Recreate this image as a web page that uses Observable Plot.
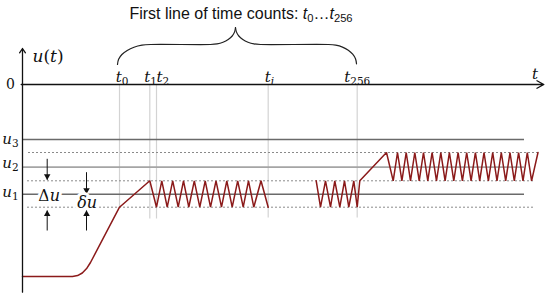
<!DOCTYPE html>
<html><head><meta charset="utf-8">
<script src="https://cdn.jsdelivr.net/npm/d3@7"></script>
<script src="https://cdn.jsdelivr.net/npm/@observablehq/plot@0.6"></script>
<style>body{margin:0;background:#fff}</style>
</head><body><div id="chart"></div>
<script>
// ---- diagram data (t: time, 0 at the u-axis; u: level, 0 at the t-axis) ----
const title = "First line of time counts: *t*_{0}…*t*_{256}";

const timeTicks = ["*t*_{0}", "*t*_{1}", "*t*_{2}", "*t*_{i}", "*t*_{256}"];
const timeTickT = [97, 127.3, 134, 245.7, 334.7];
const timeTickLabelT = [99.5, 128, 140.3, 247, 334.7];
const timeTickGuideEndU = [-123, -134, -134, -133, -133];

const levelNames = ["*u*_{3}", "*u*_{2}", "*u*_{1}"];
const levelValues = [-55, -82.7, -109.7];
const levelLabelU = [-54.5, -78.5, -108];
const levelEndT = 502;

const bandValues = [-68, -96.3, -122.7];
const bandStartT = [6, 5, 5];
const bandEndT = [516, 513, 512];

// signal u(t): ramp + first oscillation
const run1T = [0, 50, 55.1, 59.8, 64.1, 68, 97, 127.3,
  134, 139.3, 144.7, 150.2, 155.7, 161, 166.3, 171.8, 177.3, 182.7, 188,
  193.5, 199, 204.3, 209.7, 215.2, 220.7, 226, 231.3, 238.5, 245.7];
const run1U = [-192, -192, -191.1, -188.5, -184.1, -178, -122.7, -96.3,
  -122.7, -96.3, -122.7, -96.3, -122.7, -96.3, -122.7, -96.3, -122.7, -96.3, -122.7,
  -96.3, -122.7, -96.3, -122.7, -96.3, -122.7, -96.3, -122.7, -96.3, -122.7];
// signal u(t): end of first line, jump to the next level, second oscillation
const run2T = [293.7, 298, 303, 308, 312.3, 317.3, 322, 326.3, 331.3, 334.7, 337.3, 364,
  370.7, 375, 379.4, 383.7, 388, 392.3, 396.7, 401, 405.3, 409.6, 414, 418.3,
  422.6, 426.9, 431.3, 435.6, 439.9, 444.2, 448.6, 452.9, 457.2, 461.5, 465.9, 470.2,
  474.5, 478.8, 483.2, 487.5, 491.8, 496.1, 500.5, 504.8, 509.1, 515.5];
const run2U = [-96.3, -122.7, -96.3, -122.7, -96.3, -122.7, -96.3, -122.7, -96.3, -122.7, -96.3, -68,
  -96.3, -68, -96.3, -68, -96.3, -68, -96.3, -68, -96.3, -68, -96.3, -68,
  -96.3, -68, -96.3, -68, -96.3, -68, -96.3, -68, -96.3, -68, -96.3, -68,
  -96.3, -68, -96.3, -68, -96.3, -68, -96.3, -68, -96.3, -68];

// curly brace over t0 ... t256
const braceLeftT = [95, 96.1, 99.4, 104.7, 111.5, 119.5, 128, 188, 194.5, 200.5, 205.7, 209.7, 212.1, 213];
const braceLeftU = [20, 25.2, 30, 34.1, 37.3, 39.3, 40, 40, 40.6, 42.3, 45, 48.5, 52.6, 57];
const braceRightT = [213, 213.9, 216.3, 220.3, 225.5, 231.5, 238, 306, 313.2, 320, 325.8, 330.2, 333, 334];
const braceRightU = [57, 52.6, 48.5, 45, 42.3, 40.6, 40, 40, 39.3, 37.4, 34.3, 30.3, 25.7, 20.7];

// amplitude markers
const deltaNames = ["Δ*u*", "*δu*"];
const deltaT = [24.7, 64];
const deltaLabelT = [26.7, 64.7];
const deltaLabelU = [-111.2, -118.5];
const deltaDownFromU = [-74.3, -87.7];
const deltaDownToU = [-95.3, -109.3];
const deltaUpFromU = [-146, -146];
const deltaUpToU = [-126, -126];

// axes
const tAxis = {t1: -1.3, u1: 0, t2: 521.3, u2: 0};
const uAxis = {t1: 0, u1: -207.7, t2: 0, u2: 36};

// ---- drawing ----
const red = "#8b1a1a";
const mathFont = "DejaVu Serif";
const pts = (T, U) => T.map((t, i) => ({t, u: U[i]}));

const chart = Plot.plot({
  width: 550, height: 297,
  marginTop: 0, marginRight: 0, marginBottom: 0, marginLeft: 0,
  x: {domain: [-22, 528], range: [0, 550], axis: null},
  y: {domain: [-213, 84], range: [297, 0], axis: null},
  style: {background: "#fff", overflow: "visible"},
  marks: [
    // vertical guides at time counts
    Plot.link(timeTickT, {x1: d => d, x2: d => d, y1: () => 0, y2: (d, i) => timeTickGuideEndU[i],
      stroke: "#d3d3d3", strokeWidth: 1.2}),
    // dotted band limits
    Plot.ruleY(bandValues, {x1: (d, i) => bandStartT[i], x2: (d, i) => bandEndT[i],
      stroke: "#8a8a8a", strokeWidth: 1, strokeDasharray: "2,2"}),
    // level lines
    Plot.ruleY([levelValues[0]], {x1: () => 0, x2: () => levelEndT, stroke: "#6a6a6a", strokeWidth: 1.3}),
    Plot.ruleY([levelValues[1]], {x1: () => 0, x2: () => levelEndT, stroke: "#a5a5a5", strokeWidth: 1.8}),
    Plot.ruleY([levelValues[2]], {x1: () => 0, x2: () => levelEndT, stroke: "#6a6a6a", strokeWidth: 1.5}),
    // signal
    Plot.line(pts(run1T, run1U), {x: "t", y: "u", stroke: red, strokeWidth: 1.5, strokeLinejoin: "miter"}),
    Plot.line(pts(run2T, run2U), {x: "t", y: "u", stroke: red, strokeWidth: 1.5, strokeLinejoin: "miter"}),
    // brace
    Plot.line(pts(braceLeftT, braceLeftU), {x: "t", y: "u", curve: "catmull-rom", stroke: "#222", strokeWidth: 1.2}),
    Plot.line(pts(braceRightT, braceRightU), {x: "t", y: "u", curve: "catmull-rom", stroke: "#222", strokeWidth: 1.2}),
    // axes
    Plot.arrow([tAxis], {x1: "t1", y1: "u1", x2: "t2", y2: "u2", stroke: "#111", strokeWidth: 1.3, headLength: 9, headAngle: 58}),
    Plot.arrow([uAxis], {x1: "t1", y1: "u1", x2: "t2", y2: "u2", stroke: "#111", strokeWidth: 1.3, headLength: 6, headAngle: 68}),
    // amplitude arrows
    Plot.link(deltaT, {x1: d => d, x2: d => d, y1: (d, i) => deltaDownFromU[i], y2: (d, i) => deltaDownToU[i], stroke: "#111", strokeWidth: 1}),
    Plot.link(deltaT, {x1: d => d, x2: d => d, y1: (d, i) => deltaUpFromU[i], y2: (d, i) => deltaUpToU[i], stroke: "#111", strokeWidth: 1}),
    Plot.dot(deltaT, {x: d => d, y: (d, i) => deltaDownToU[i], symbol: "triangle", r: 2.4, rotate: 180, dy: -3.6, fill: "#111", stroke: "none"}),
    Plot.dot(deltaT, {x: d => d, y: (d, i) => deltaUpToU[i], symbol: "triangle", r: 2.4, dy: 3.6, fill: "#111", stroke: "none"}),
    // texts
    Plot.text([title], {x: () => 218.5, y: () => 71, text: d => d, fontFamily: "Liberation Sans, Arial, sans-serif", fontSize: 16, fill: "#111"}),
    Plot.text(timeTicks, {x: (d, i) => timeTickLabelT[i], y: () => 7.5, text: d => d, fontFamily: mathFont, fontSize: 15, fill: "#111"}),
    Plot.text(levelNames, {x: () => -12, y: (d, i) => levelLabelU[i], text: d => d, fontFamily: mathFont, fontSize: 15, fill: "#111"}),
    Plot.text(["0"], {x: () => -12, y: () => 0, text: d => d, fontFamily: mathFont, fontSize: 14, fill: "#111"}),
    Plot.text(["*u*(*t*)"], {x: () => 10, y: () => 27.5, text: d => d, textAnchor: "start", fontFamily: mathFont, fontSize: 17, fill: "#111"}),
    Plot.text(["*t*"], {x: () => 512.5, y: () => 10, text: d => d, fontFamily: mathFont, fontSize: 15, fill: "#111"}),
    Plot.text(deltaNames, {x: (d, i) => deltaLabelT[i], y: (d, i) => deltaLabelU[i], text: d => d, fontFamily: mathFont, fontSize: 16,
      fill: "#111", stroke: "#fff", strokeWidth: 6})
  ]
});
document.getElementById("chart").appendChild(chart);

// turn *x* into italic and _{x} into subscript tspans
function richify(root) {
  root.querySelectorAll("text").forEach(el => {
    const raw = el.textContent;
    if (!/[*_]/.test(raw)) return;
    const fs = parseFloat(getComputedStyle(el).fontSize) || 14;
    const shift = 0.2 * fs;
    while (el.firstChild) el.removeChild(el.firstChild);
    let low = false;
    const re = /\*([^*]+)\*|_\{([^}]+)\}|([^*_]+)/g;
    let m;
    while ((m = re.exec(raw))) {
      const ts = document.createElementNS("http://www.w3.org/2000/svg", "tspan");
      if (m[2] !== undefined) {
        ts.textContent = m[2];
        ts.setAttribute("font-size", (0.7 * fs).toFixed(1));
        if (/[a-z]/i.test(m[2])) ts.setAttribute("font-style", "italic");
        if (!low) { ts.setAttribute("dy", shift.toFixed(1)); low = true; }
      } else {
        ts.textContent = m[1] !== undefined ? m[1] : m[3];
        if (m[1] !== undefined) ts.setAttribute("font-style", "italic");
        if (low) { ts.setAttribute("dy", (-shift).toFixed(1)); low = false; }
      }
      el.appendChild(ts);
    }
  });
}
richify(chart);
</script>
</body></html>
